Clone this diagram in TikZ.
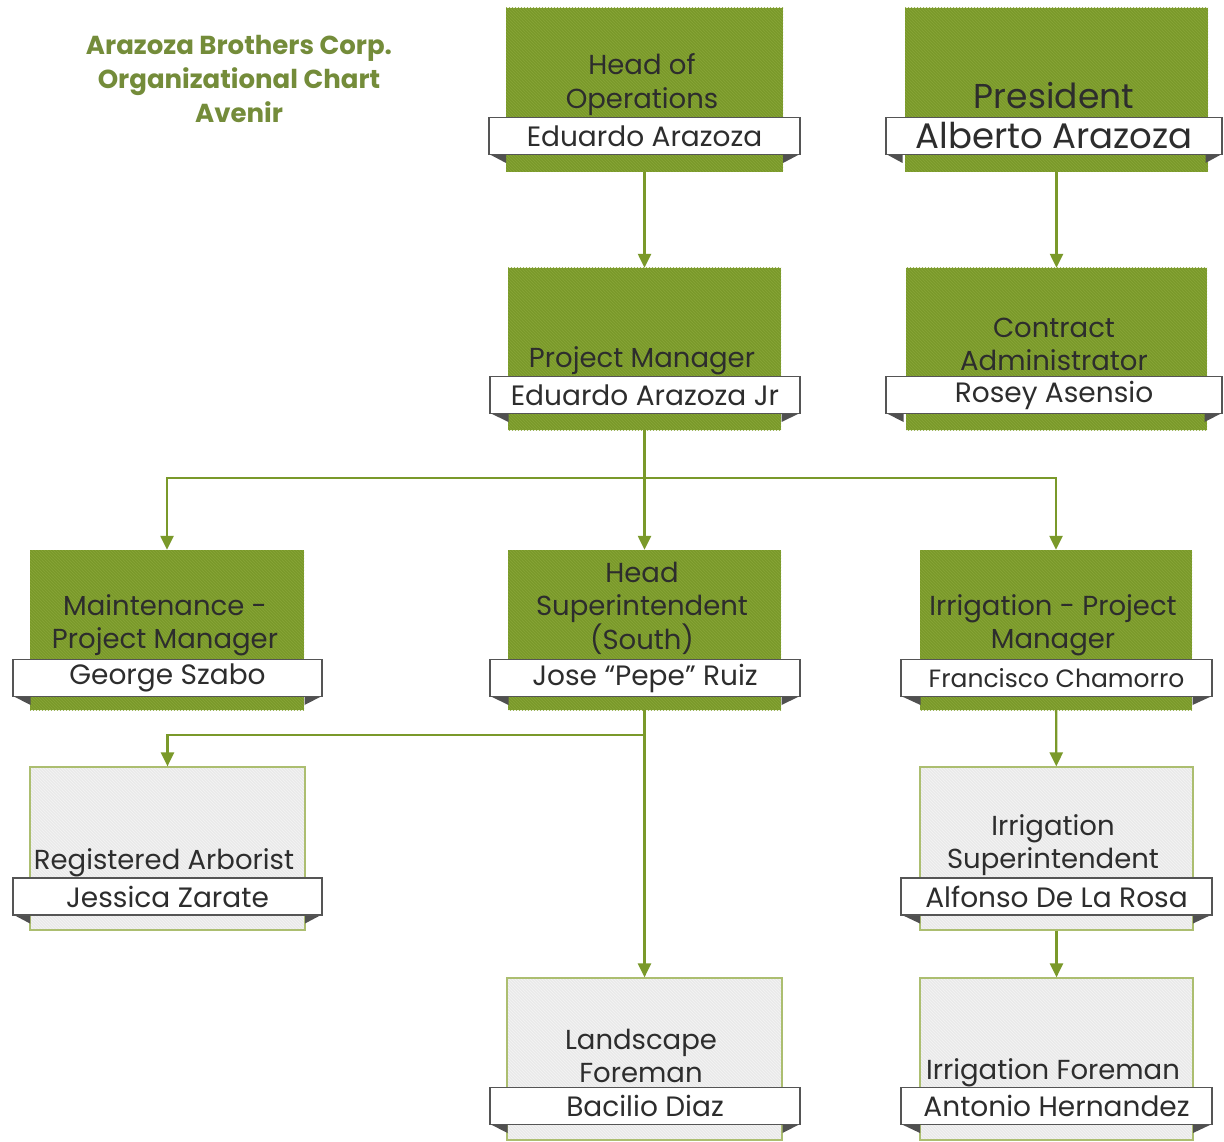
\documentclass[tikz,border=0pt]{standalone}
\usepackage{fontspec}
\setmainfont{Poppins}
\usetikzlibrary{arrows.meta,patterns}
\definecolor{gfill}{RGB}{122,153,42}
\definecolor{ghatch}{RGB}{136,166,56}
\definecolor{pfill}{RGB}{234,234,234}
\definecolor{phatch}{RGB}{244,244,244}
\definecolor{pborder}{RGB}{172,190,112}
\definecolor{barline}{RGB}{85,85,85}
\definecolor{foldc}{RGB}{80,80,80}
\definecolor{txt}{RGB}{45,45,45}
\definecolor{titlec}{RGB}{116,140,58}
\definecolor{linec}{RGB}{122,153,42}
\tikzset{
  greenbox/.style={rectangle, inner sep=0pt, preaction={fill=gfill}, pattern=north west lines, pattern color=ghatch},
  greybox/.style={rectangle, inner sep=0pt, draw=pborder, line width=1.2pt, preaction={fill=pfill}, pattern=north west lines, pattern color=phatch},
  barbox/.style={rectangle, draw=barline, line width=1.6pt, fill=white, minimum height=37pt, inner sep=0pt, text=txt},
  roletext/.style={align=center, text=txt, inner sep=0pt, font=\fontsize{27.5}{33.5}\selectfont},
  nametext/.style={font=\fontsize{28}{30}\selectfont},
  conn/.style={draw=linec, line width=2.4pt, -{Triangle[width=13pt,length=14pt]}},
  titletext/.style={align=center, text=titlec, inner sep=0pt, font=\fontsize{26}{34}\selectfont\bfseries}
}
% #1 name, #2 cx, #3 cy, #4 bar width, #5 box half width, #6 text options, #7 text
\newcommand{\namebar}[7]{%
  \fill[foldc] (#2-#4/2,#3+18) -- (#2-#5,#3+18) -- (#2-#5,#3+27) -- cycle;
  \fill[foldc] (#2+#4/2,#3+18) -- (#2+#5,#3+18) -- (#2+#5,#3+27) -- cycle;
  \node[barbox, minimum width=#4pt, #6] (#1) at (#2,#3) {#7};
}
\begin{document}
\begin{tikzpicture}[x=1pt,y=-1pt]
\useasboundingbox (0,0) rectangle (1224,1142);
\fill[white] (0,0) rectangle (1224,1142);

% title
\node[titletext] (title) at (239,79) {Arazoza Brothers Corp.\\Organizational Chart\\Avenir};

% boxes
\node[greenbox, minimum width=277pt, minimum height=164pt] (hop) at (644.5,90) {};
\node[greenbox, minimum width=303pt, minimum height=164pt] (pres) at (1056.5,90) {};
\node[greenbox, minimum width=273pt, minimum height=162pt] (pm) at (644.5,349) {};
\node[greenbox, minimum width=301pt, minimum height=162pt] (ca) at (1056.5,349) {};
\node[greenbox, minimum width=274pt, minimum height=160pt] (mpm) at (167,630) {};
\node[greenbox, minimum width=273pt, minimum height=160pt] (hs) at (644.5,630) {};
\node[greenbox, minimum width=272pt, minimum height=160pt] (ipm) at (1056,630) {};
\node[greybox, minimum width=275pt, minimum height=163pt] (ra) at (167.5,848.5) {};
\node[greybox, minimum width=273pt, minimum height=163pt] (is) at (1056.5,848.5) {};
\node[greybox, minimum width=275pt, minimum height=162pt] (lf) at (644.5,1059) {};
\node[greybox, minimum width=273pt, minimum height=162pt] (if) at (1056.5,1059) {};

% role texts
\node[roletext] (hopt) at (642,84.5) {Head of\\Operations};
\node[roletext, font=\fontsize{34.5}{38}\selectfont] (prest) at (1054,96) {President};
\node[roletext] (pmt) at (642,361) {Project Manager};
\node[roletext] (cat) at (1054,344.5) {Contract\\Administrator};
\node[roletext] (mpmt) at (165,625) {Maintenance -\\Project Manager};
\node[roletext] (hst) at (642,608) {Head\\Superintendent\\(South)};
\node[roletext] (ipmt) at (1053,625) {Irrigation - Project\\Manager};
\node[roletext] (rat) at (164,862.5) {Registered Arborist};
\node[roletext] (ist) at (1053,845) {Irrigation\\Superintendent};
\node[roletext] (lft) at (641,1056) {Landscape\\Foreman};
\node[roletext] (ift) at (1053,1072.5) {Irrigation Foreman};

% name bars
\namebar{hopn}{644.5}{136}{311}{138.5}{nametext}{Eduardo Arazoza}
\namebar{presn}{1054}{136}{336}{151.5}{font=\fontsize{35.5}{37}\selectfont}{Alberto Arazoza}
\namebar{pmn}{645}{395}{310}{136.5}{nametext}{Eduardo Arazoza Jr}
\namebar{can}{1054}{395}{336}{150.5}{nametext}{Rosey Asensio}
\namebar{mpmn}{167.5}{678}{309}{137}{nametext}{George Szabo}
\namebar{hsn}{645}{678}{310}{136.5}{nametext}{Jose “Pepe” Ruiz}
\namebar{ipmn}{1056.5}{678}{311}{136}{font=\fontsize{25}{28}\selectfont}{Francisco Chamorro}
\namebar{ran}{167.5}{896.5}{309}{137.5}{nametext}{Jessica Zarate}
\namebar{isn}{1056.5}{896.5}{311}{136.5}{nametext}{Alfonso De La Rosa}
\namebar{lfn}{645}{1106}{310}{137.5}{nametext}{Bacilio Diaz}
\namebar{ifn}{1056.5}{1106}{311}{136.5}{nametext}{Antonio Hernandez}

% connectors
\coordinate (j1) at (644.5,478);
\coordinate (j2) at (644.5,735);
\draw[conn] (hop) -- (pm);
\draw[conn] (pres) -- (ca);
\draw[conn] (pm) -- (hs);
\draw[conn] (j1) -| (mpm);
\draw[conn] (j1) -| (ipm);
\draw[conn] (hs) -- (lf);
\draw[conn] (j2) -| (ra);
\draw[conn] (ipm) -- (is);
\draw[conn] (is) -- (if);
\end{tikzpicture}
\end{document}
